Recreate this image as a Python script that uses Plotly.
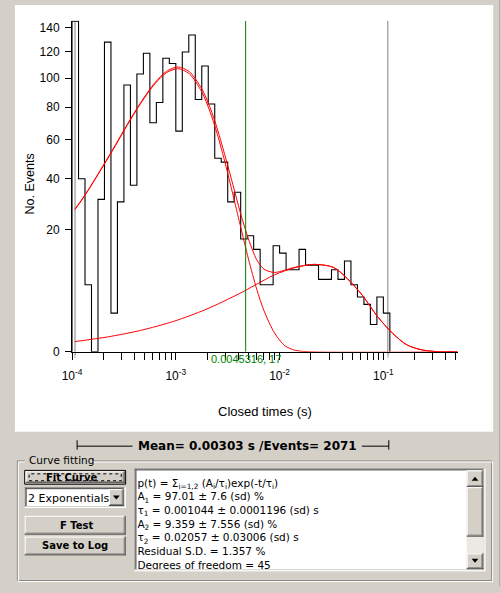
import numpy as np
import plotly.graph_objects as go

W, H = 501, 593

# ---------------- data ----------------
bin_start = 1e-4
bins_per_decade = 16
counts = [146, 40, 6, 0, 31, 128, 2, 30, 95, 37, 103, 119, 70, 83, 115, 111, 65,
          120, 134, 85, 109, 82, 50, 48, 30, 34, 17, 18, 14, 6, 6, 15, 13, 9, 9,
          14, 10, 10, 7, 7, 9, 7, 11, 6, 4, 3, 1, 4, 2]

fit_logt_total = [-3.972, -3.90, -3.83, -3.70, -3.58, -3.47, -3.34, -3.20, -3.09, -2.98,
                  -2.87, -2.75, -2.67, -2.60, -2.52, -2.45, -2.38, -2.30, -2.22, -2.15,
                  -2.05, -1.95, -1.86, -1.67, -1.48, -1.35, -1.20, -1.06, -0.91, -0.77,
                  -0.62, -0.45, -0.285]
fit_total = [27.2, 31.3, 36.0, 46.3, 57.3, 68.8, 82.8, 96.8, 105.0, 108.3,
             104.8, 92.3, 79.7, 66.3, 50.2, 37.3, 26.1, 17.0, 11.3, 9.1,
             8.4, 8.9, 9.5, 10.2, 9.5, 7.2, 4.2, 1.7, 0.45, 0.06,
             0.004, 0.0, 0.0]

fit_logt_c1 = [-3.972, -3.90, -3.83, -3.70, -3.58, -3.47, -3.34, -3.20, -3.09, -2.98,
               -2.87, -2.75, -2.67, -2.60, -2.52, -2.45, -2.38, -2.30, -2.22, -2.15,
               -2.05, -1.95, -1.85, -1.70, -0.285]
fit_c1 = [27.0, 31.1, 35.8, 46.0, 56.9, 68.3, 82.2, 96.0, 104.0, 107.0,
          103.2, 90.2, 76.9, 63.2, 46.6, 33.0, 21.5, 11.5, 5.2, 2.24,
          0.48, 0.05, 0.003, 0.0, 0.0]

fit_logt_c2 = [-3.972, -3.65, -3.34, -3.02, -2.71, -2.39, -2.24, -2.05, -1.86, -1.67,
               -1.48, -1.35, -1.20, -1.06, -0.91, -0.77, -0.62, -0.45, -0.285]
fit_c2 = [0.14, 0.30, 0.61, 1.24, 2.4, 4.5, 5.9, 7.9, 9.4, 10.2,
          9.5, 7.2, 4.2, 1.7, 0.45, 0.06, 0.004, 0.0, 0.0]

cursor_fit_lo = 1.068e-4
cursor_fit_hi = 0.1104
cursor_green = 0.00471
cursor_label = "0.0045316, 17"

y_tick_values = [0, 20, 40, 60, 80, 100, 120, 140]
y_max = 146.3
x_range_log = [-4, -0.285]
x_major = [1e-4, 1e-3, 1e-2, 1e-1]
x_major_labels = ["10<sup>-4</sup>", "10<sup>-3</sup>", "10<sup>-2</sup>", "10<sup>-1</sup>"]

x_title = "Closed times (s)"
y_title = "No. Events"
mean_text = "Mean= 0.00303 s /Events= 2071"
memo_lines = [
    "p(t) = Σ<sub>i=1,2</sub> (A<sub>i</sub>/τ<sub>i</sub>)exp(-t/τ<sub>i</sub>)",
    "A<sub>1</sub> = 97.01 ± 7.6 (sd) %",
    "τ<sub>1</sub> = 0.001044 ± 0.0001196 (sd) s",
    "A<sub>2</sub> = 9.359 ± 7.556 (sd) %",
    "τ<sub>2</sub> = 0.02057 ± 0.03006 (sd) s",
    "Residual S.D. = 1.357 %",
    "Degrees of freedom = 45",
]
group_label = "Curve fitting"
btn_fit = "Fit Curve"
combo_text = "2 Exponentials"
btn_ftest = "F Test"
btn_save = "Save to Log"

# ---------------- styling ----------------
FACE = "#d4d0c8"
SHADOW = "#808080"
DARK = "#404040"
FONT = "Liberation Sans, Arial, sans-serif"
UIFONT = "DejaVu Sans, Verdana, sans-serif"


def PX(x):
    return x / W


def PY(y):
    return 1 - y / H


shapes = []


def _add(d, dash=None):
    if dash:
        d["line"]["dash"] = dash
    d["layer"] = "below"
    shapes.append(d)


def hline(x0, x1, y, color, width=1, dash=None):
    _add(dict(type="line", xref="paper", yref="paper", x0=PX(x0), x1=PX(x1),
              y0=PY(y), y1=PY(y), line=dict(color=color, width=width)), dash)


def vline(x, y0, y1, color, width=1, dash=None):
    _add(dict(type="line", xref="paper", yref="paper", x0=PX(x), x1=PX(x),
              y0=PY(y0), y1=PY(y1), line=dict(color=color, width=width)), dash)


def rect(x0, y0, x1, y1, fill, line=None, width=1, dash=None):
    _add(dict(type="rect", xref="paper", yref="paper", x0=PX(x0), x1=PX(x1),
              y0=PY(y1), y1=PY(y0), fillcolor=fill,
              line=dict(width=0 if line is None else width,
                        color=line if line else "rgba(0,0,0,0)")), dash)


def raised(x0, y0, x1, y1):
    rect(x0, y0, x1, y1, FACE)
    hline(x0, x1 - 1, y0 + 0.5, "#ffffff")
    vline(x0 + 0.5, y0, y1 - 1, "#ffffff")
    hline(x0, x1, y1 - 0.5, DARK)
    vline(x1 - 0.5, y0, y1, DARK)
    hline(x0 + 1, x1 - 1, y1 - 1.5, SHADOW)
    vline(x1 - 1.5, y0 + 1, y1 - 1, SHADOW)


def sunken(x0, y0, x1, y1, fill="#ffffff"):
    rect(x0, y0, x1, y1, fill)
    hline(x0, x1 - 1, y0 + 0.5, SHADOW)
    vline(x0 + 0.5, y0, y1 - 1, SHADOW)
    hline(x0 + 1, x1 - 2, y0 + 1.5, DARK)
    vline(x0 + 1.5, y0 + 1, y1 - 2, DARK)
    hline(x0, x1, y1 - 0.5, "#ffffff")
    vline(x1 - 0.5, y0, y1, "#ffffff")
    hline(x0 + 1, x1 - 1, y1 - 1.5, FACE)
    vline(x1 - 1.5, y0 + 1, y1 - 1, FACE)


def tri(cx, cy, up):
    if up:
        pts = [(cx - 3.5, cy + 2), (cx + 3.5, cy + 2), (cx, cy - 2)]
    else:
        pts = [(cx - 3.5, cy - 2), (cx + 3.5, cy - 2), (cx, cy + 2)]
    path = "M " + " L ".join(f"{PX(x)},{PY(y)}" for x, y in pts) + " Z"
    _add(dict(type="path", xref="paper", yref="paper", path=path,
              fillcolor="black", line=dict(width=0)))


# white chart panel
rect(5, 5, 493, 437, "#ffffff")
vline(499.5, 0, 593, "#b0aca4")

# mean bracket
vline(68.5, 445.5, 455, "black")
vline(386.5, 445.5, 455, "black")
hline(68.5, 125, 451.5, "black")
hline(359, 386.5, 451.5, "black")

# group box (etched)
rect(7.5, 466.5, 491.5, 587.5, "rgba(0,0,0,0)", SHADOW)
rect(8.5, 467.5, 492.5, 588.5, "rgba(0,0,0,0)", "#ffffff")
rect(15, 460, 84, 472, FACE)

# Fit Curve (default button)
rect(15, 476, 118, 490, FACE, "black")
raised(16, 477, 117, 489)
rect(19.5, 479.5, 113.5, 486.5, "rgba(0,0,0,0)", "black", dash="dot")

# combo
sunken(15, 493, 118, 514)
raised(101, 495, 116, 512)
tri(108.5, 503.5, False)

# F Test, Save to Log
raised(15, 522, 118, 541)
raised(15, 543, 118, 562)

# memo
sunken(127, 474, 485, 578)
rect(466, 476, 483, 576, "#ebe9e4")
raised(466, 476, 483, 493)
tri(474.5, 484.5, True)
raised(466, 493, 483, 543)
raised(466, 560, 483, 576)
tri(474.5, 567.5, False)

annotations = []


def text(x, y, s, size=12, family=FONT, color="black", xanchor="center", bold=False, angle=0):
    annotations.append(dict(
        x=PX(x), y=PY(y), xref="paper", yref="paper", showarrow=False,
        text=f"<b>{s}</b>" if bold else s, textangle=angle,
        font=dict(family=family, size=size, color=color),
        xanchor=xanchor, yanchor="middle", borderpad=0))


text(260, 416, x_title, size=13)
text(20, 186, y_title, size=12.5, angle=-90)
text(242, 451, mean_text, size=12, family=UIFONT, bold=True)
text(18, 465.5, group_label, size=10.5, family=UIFONT, xanchor="left")
text(62.5, 483, btn_fit, size=10, family=UIFONT, bold=True)
text(17.5, 504, combo_text, size=11, family=UIFONT, xanchor="left")
text(68, 531.5, btn_ftest, size=10, family=UIFONT, bold=True)
text(66.5, 552.5, btn_save, size=10, family=UIFONT, bold=True)

annotations.append(dict(
    x=np.log10(cursor_green), y=PY(363), xref="x", yref="paper", showarrow=False,
    text=cursor_label, font=dict(family=FONT, size=11, color="#008000"),
    xanchor="center", yanchor="middle", borderpad=0))
for c in (cursor_fit_lo, cursor_fit_hi):
    annotations.append(dict(
        x=np.log10(c), y=PY(360), xref="x", yref="paper", showarrow=False,
        text="f", font=dict(family=FONT, size=7, color="#808080"),
        xanchor="center", yanchor="middle", borderpad=0))

# ---------------- traces ----------------
edges = bin_start * 10 ** (np.arange(len(counts) + 1) / bins_per_decade)
hist_x = np.concatenate([[edges[0]], edges])
hist_y = np.sqrt(np.concatenate([[0], counts, [0]]))

fig = go.Figure()
ytop = float(np.sqrt(y_max))
fig.add_trace(go.Scatter(x=[cursor_fit_lo] * 2, y=[0, ytop], mode="lines",
                         line=dict(color="#808080", width=1), hoverinfo="skip"))
fig.add_trace(go.Scatter(x=[cursor_fit_hi] * 2, y=[0, ytop], mode="lines",
                         line=dict(color="#808080", width=1), hoverinfo="skip"))
fig.add_trace(go.Scatter(x=hist_x.tolist(), y=hist_y.tolist(), mode="lines",
                         line=dict(color="black", width=1.1, shape="hv")))
for lt, v in [(fit_logt_c2, fit_c2), (fit_logt_c1, fit_c1), (fit_logt_total, fit_total)]:
    fig.add_trace(go.Scatter(x=(10 ** np.array(lt)).tolist(), y=np.sqrt(np.array(v)).tolist(),
                             mode="lines",
                             line=dict(color="#ff0000", width=1, shape="spline", smoothing=0.8)))
fig.add_trace(go.Scatter(x=[cursor_green] * 2, y=[0, ytop], mode="lines",
                         line=dict(color="#008000", width=1), hoverinfo="skip"))

memo_y = [490.0, 503.8, 517.6, 531.4, 545.2, 559.0, 572.8]
fig.add_trace(go.Scatter(x=[130] * len(memo_lines), y=memo_y, text=memo_lines,
                         mode="text", textposition="middle right",
                         textfont=dict(family=UIFONT, size=10.5, color="black"),
                         xaxis="x2", yaxis="y2", cliponaxis=True, hoverinfo="skip"))

x_tickvals = []
x_ticktext = []
for i, m in enumerate(x_major):
    for k in range(1, 10):
        v = m * k
        if np.log10(v) <= x_range_log[1] + 1e-9:
            x_tickvals.append(v)
            x_ticktext.append(x_major_labels[i] if k == 1 else "")

fig.update_layout(
    width=W, height=H, margin=dict(l=0, r=0, t=0, b=0),
    paper_bgcolor=FACE, plot_bgcolor="rgba(0,0,0,0)", showlegend=False,
    shapes=shapes, annotations=annotations,
    xaxis=dict(type="log", range=x_range_log, domain=[63.3 / W, 456.7 / W], anchor="y",
               showline=True, linecolor="black", linewidth=1, ticks="outside", ticklen=7,
               tickcolor="black", tickwidth=1, tickvals=x_tickvals, ticktext=x_ticktext,
               tickfont=dict(family=FONT, size=12, color="black"), showgrid=False,
               zeroline=False, ticklabelstandoff=6),
    yaxis=dict(range=[0, ytop], domain=[1 - 356 / H, 1 - 21 / H], anchor="x",
               showline=True, linecolor="black", linewidth=1, ticks="outside", ticklen=6,
               tickcolor="black", tickwidth=1, tickvals=np.sqrt(y_tick_values).tolist(),
               ticktext=[str(v) for v in y_tick_values],
               tickfont=dict(family=FONT, size=12, color="black"), showgrid=False,
               zeroline=False, ticklabelstandoff=3),
    xaxis2=dict(domain=[130 / W, 465 / W], range=[130, 465], visible=False, anchor="y2"),
    yaxis2=dict(domain=[1 - 576 / H, 1 - 477 / H], range=[576, 477], visible=False, anchor="x2"),
)

fig.write_html("out.html", config={"displayModeBar": False},
               post_script="document.body.style.margin='0';document.body.style.padding='0';"
                           "document.documentElement.style.overflow='hidden';")
